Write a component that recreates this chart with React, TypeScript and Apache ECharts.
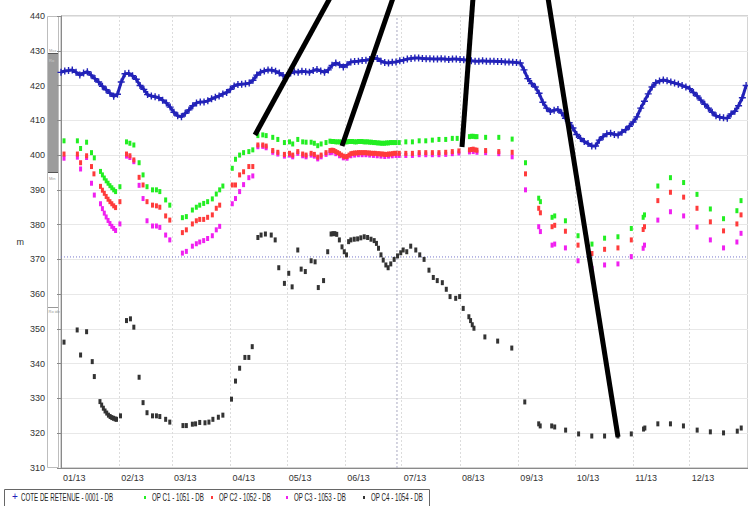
import React, { useEffect, useRef } from "react";
import * as echarts from "echarts";

// ---- axis definitions ----
const monthStarts = [0, 31, 59, 90, 120, 151, 181, 212, 243, 273, 304, 334];
const monthLabels = ["01/13", "02/13", "03/13", "04/13", "05/13", "06/13", "07/13", "08/13", "09/13", "10/13", "11/13", "12/13"];
const yTicks = { min: 310, max: 440, step: 10 };
const xRange = { min: 0, max: 365 };

// ---- series names ----
const seriesNames = [
  "COTE DE RETENUE - 0001 - DB",
  "OP C1 - 1051 - DB",
  "OP C2 - 1052 - DB",
  "OP C3 - 1053 - DB",
  "OP C4 - 1054 - DB",
];

// ---- data: [day of year, level (m)] ----
const coteRetenue = [
  [0, 423.8], [2, 424.2], [4, 424.3], [6, 424.5], [8, 423.8], [10, 423.0], [12, 423.6], [14, 424.0], [16, 423.0], [18, 422.0],
  [20, 421.0], [22, 419.8], [24, 418.8], [26, 417.8], [28, 416.9], [30, 417.5], [32, 421.0], [34, 423.4], [36, 423.5], [38, 422.8],
  [40, 421.8], [42, 420.0], [44, 418.9], [46, 417.4], [48, 417.0], [50, 416.8], [52, 416.5], [54, 415.8], [56, 415.0], [58, 413.8],
  [60, 412.3], [62, 411.3], [64, 411.0], [66, 412.0], [68, 413.0], [70, 414.2], [72, 415.0], [74, 415.3], [76, 415.3], [78, 415.6],
  [80, 416.2], [82, 416.6], [84, 417.0], [86, 417.6], [88, 418.0], [90, 418.9], [92, 419.9], [94, 420.3], [96, 420.4], [98, 420.5],
  [100, 420.7], [102, 421.5], [104, 423.0], [106, 423.8], [108, 424.2], [110, 424.5], [112, 424.4], [114, 424.1], [116, 423.6], [118, 422.9],
  [120, 422.8], [122, 423.6], [124, 424.0], [126, 423.8], [128, 424.1], [130, 424.0], [132, 423.8], [134, 424.3], [136, 424.6], [138, 424.2],
  [140, 423.8], [142, 424.5], [144, 425.8], [146, 426.5], [148, 426.0], [150, 425.3], [152, 426.0], [154, 426.8], [156, 426.9], [158, 427.0],
  [160, 427.2], [162, 427.3], [164, 427.5], [166, 427.8], [168, 427.8], [170, 427.0], [172, 426.6], [174, 426.5], [176, 426.7], [178, 426.8],
  [180, 427.1], [182, 427.3], [184, 427.6], [186, 427.8], [188, 427.9], [190, 427.9], [192, 427.8], [194, 427.7], [196, 427.7], [198, 427.6],
  [200, 427.6], [202, 427.7], [204, 427.6], [206, 427.5], [208, 427.6], [210, 427.6], [212, 427.5], [214, 427.4], [216, 427.3], [218, 427.1],
  [220, 427.0], [222, 427.0], [224, 427.1], [226, 427.0], [228, 427.0], [230, 427.0], [232, 426.9], [234, 426.9], [236, 426.8], [238, 426.8],
  [240, 426.7], [242, 426.6], [244, 426.5], [246, 424.5], [248, 422.0], [250, 420.6], [252, 419.6], [254, 417.8], [256, 415.2], [258, 413.5],
  [260, 412.5], [262, 412.9], [264, 413.1], [266, 412.1], [268, 410.6], [270, 409.3], [272, 407.8], [274, 405.9], [276, 404.8], [278, 403.9],
  [280, 403.3], [282, 402.6], [284, 402.6], [286, 404.3], [288, 405.3], [290, 406.1], [292, 406.3], [294, 405.9], [296, 405.8], [298, 406.6],
  [300, 407.3], [302, 408.3], [304, 409.5], [306, 411.0], [308, 413.5], [310, 415.5], [312, 417.6], [314, 419.6], [316, 420.8], [318, 421.3],
  [320, 421.6], [322, 421.4], [324, 421.0], [326, 420.7], [328, 420.4], [330, 420.0], [332, 419.6], [334, 419.1], [336, 418.0], [338, 417.0],
  [340, 415.8], [342, 414.6], [344, 413.5], [346, 412.3], [348, 411.3], [350, 410.9], [352, 410.7], [354, 410.6], [356, 411.8], [358, 412.6],
  [360, 414.2], [362, 416.5], [364, 420.0],
];

const opC1 = [
  [1.6, 404.1], [8.7, 404.1], [10.4, 401.9], [13.6, 403.7], [16.2, 400.7], [17.7, 399.2],
  [21, 395.3], [22, 394.3], [23, 393.4], [24, 392.6], [25, 391.9], [26, 391.2], [27, 390.6], [28, 390.0], [29, 389.5],
  [31.3, 390.9], [34.8, 403.8], [36.6, 403.4], [38.7, 402.9], [41.5, 397.8], [43.6, 394.3], [45.7, 390.9], [48.6, 390.0], [50.7, 390.0], [52.5, 389.5], [55.6, 387.1], [57.8, 385.6],
  [64.5, 382.0], [66.6, 382.3], [69.8, 384.2], [71.9, 385.0], [73.7, 385.6], [75.8, 386.1], [77.9, 386.6], [80.4, 387.4], [82.5, 388.8], [84.3, 390.0], [86.0, 391.1], [91.0, 396.2], [92.7, 398.8], [94.9, 400.0], [97.0, 400.7], [99.8, 401.0], [101.9, 401.5],
  [104.6, 405.6], [107.2, 405.8], [109.0, 405.6], [112.5, 405.1], [115.2, 404.5], [118.7, 403.6], [121.4, 403.8], [123.1, 403.2], [125.8, 404.5], [128.4, 403.8], [130.2, 403.7], [132.9, 403.7], [134.6, 403.4], [136.4, 402.7], [138.2, 403.2], [140.8, 403.6], [142.9, 404.0],
  [144, 403.9], [145, 403.9], [146, 403.8], [147, 403.8], [148, 403.8], [149, 403.7], [150, 403.7], [151, 403.8], [152, 403.8], [153, 403.9], [154, 403.9], [155, 403.9], [156, 403.8], [157, 403.8], [158, 403.9], [159, 403.9], [160, 403.9], [161, 403.8], [162, 403.8], [163, 403.8], [164, 403.7], [165, 403.7], [166, 403.6], [167, 403.6], [168, 403.5], [169, 403.5], [170, 403.4], [171, 403.4], [172, 403.4], [173, 403.5], [174, 403.5], [175, 403.6], [176, 403.6], [177, 403.6], [178, 403.6],
  [179.7, 403.6], [183.2, 403.8], [186.7, 403.8], [190.3, 404.1], [193.8, 404.1], [197.3, 404.3], [200.8, 404.5], [204.4, 404.5], [207.9, 404.8], [210.5, 404.8],
  [217, 405.3], [218, 405.4], [219, 405.4], [220, 405.3], [221, 405.3],
  [225.6, 405.1], [232.6, 405.1], [239.7, 404.6], [246.8, 397.8], [253.8, 387.6], [254.7, 386.6], [260.9, 382.1], [262.3, 382.5], [268.0, 381.1], [274.7, 376.8], [282.1, 374.4], [288.8, 376.1], [295.9, 376.5], [303.0, 378.9], [309.3, 382.1], [310.0, 382.8], [317.1, 391.1], [323.8, 393.5], [330.8, 392.1], [337.9, 388.7], [345.0, 384.5], [352.0, 381.7], [359.1, 384.0], [361.3, 386.9],
];

const opC2 = [
  [1.6, 400.3], [8.7, 400.3], [10.4, 397.8], [13.6, 399.8], [16.2, 396.7], [17.5, 394.6],
  [21, 391.0], [22, 389.9], [23, 389.0], [24, 388.1], [25, 387.3], [26, 386.6], [27, 386.0], [28, 385.4], [29, 384.9],
  [31.3, 386.6], [34.8, 400.3], [36.6, 399.8], [38.7, 398.6], [41.5, 393.6], [43.6, 391.4], [45.7, 386.6], [48.6, 385.6], [50.7, 385.4], [52.5, 385.0], [55.6, 382.5], [57.8, 381.3],
  [64.5, 377.7], [66.6, 378.5], [69.8, 380.2], [71.9, 381.1], [73.7, 381.5], [75.8, 381.5], [77.9, 382.1], [80.4, 382.8], [82.5, 384.7], [84.3, 385.6], [91.0, 391.4], [92.7, 391.4], [94.9, 394.3], [97.0, 395.2], [99.8, 396.7], [101.9, 396.7],
  [104.6, 402.9], [107.2, 402.9], [109.0, 402.6], [112.5, 401.3], [115.2, 400.8], [118.7, 400.2], [121.4, 400.5], [123.1, 400.0], [125.8, 401.0], [128.4, 400.3], [130.2, 400.0], [132.9, 400.5], [134.6, 400.2], [136.4, 399.4], [138.2, 400.0], [140.8, 400.7], [142.9, 401.3],
  [144, 401.4], [145, 401.3], [146, 401.0], [147, 400.7], [148, 400.4], [149, 400.0], [150, 399.7], [151, 399.5], [152, 399.6], [153, 400.0], [154, 400.4], [155, 400.5], [156, 400.6], [157, 400.6], [158, 400.7], [159, 400.7], [160, 400.7], [161, 400.7], [162, 400.7], [163, 400.6], [164, 400.6], [165, 400.5], [166, 400.5], [167, 400.5], [168, 400.4], [169, 400.4], [170, 400.3], [171, 400.3], [172, 400.2], [173, 400.2], [174, 400.3], [175, 400.3], [176, 400.4], [177, 400.5], [178, 400.5],
  [179.7, 400.5], [183.2, 400.5], [186.7, 400.5], [190.3, 400.7], [193.8, 400.7], [197.3, 400.7], [200.8, 400.7], [204.4, 400.8], [207.9, 401.0], [211.4, 401.2],
  [217, 401.5], [218, 401.6], [219, 401.7], [220, 401.5], [221, 401.4],
  [225.6, 401.3], [232.6, 401.0], [239.7, 400.8], [246.8, 394.6], [253.8, 384.7], [254.7, 383.4], [260.9, 379.4], [262.3, 379.8], [268.0, 378.1], [274.7, 374.1], [282.1, 371.7], [288.8, 372.9], [295.9, 373.3], [303.0, 375.6], [309.3, 378.6], [310.0, 379.4], [317.1, 386.9], [323.8, 389.3], [330.8, 387.9], [337.9, 384.7], [345.0, 380.8], [352.0, 378.2], [359.1, 380.2], [361.3, 382.8],
];

const opC3 = [
  [1.6, 399.1], [8.7, 399.4], [10.4, 396.0], [13.6, 399.3], [16.2, 391.9], [17.7, 388.5],
  [21, 386.0], [22, 384.6], [23, 383.3], [24, 382.2], [25, 381.2], [26, 380.3], [27, 379.5], [28, 378.9], [29, 378.3],
  [31.3, 380.2], [34.8, 399.7], [36.6, 399.3], [38.7, 398.1], [41.5, 391.3], [43.6, 387.5], [45.7, 381.1], [48.6, 379.6], [50.7, 379.6], [52.5, 379.2], [55.6, 377.0], [57.8, 375.6],
  [64.5, 371.8], [66.6, 372.3], [69.8, 373.8], [71.9, 374.5], [73.7, 375.0], [75.8, 375.4], [77.9, 376.0], [80.4, 376.8], [82.5, 378.5], [84.3, 379.5], [91.0, 386.0], [92.7, 387.5], [94.9, 389.5], [97.0, 391.5], [99.8, 393.5], [101.9, 394.0],
  [104.6, 402.4], [107.2, 402.5], [109.0, 402.1], [112.5, 400.8], [115.2, 400.3], [118.7, 399.7], [121.4, 400.0], [123.1, 399.5], [125.8, 400.5], [128.4, 399.8], [130.2, 399.5], [132.9, 400.0], [134.6, 399.7], [136.4, 398.9], [138.2, 399.5], [140.8, 400.2], [142.9, 400.7],
  [144, 400.8], [146, 400.4], [148, 399.8], [150, 399.2], [152, 399.1], [154, 399.8], [156, 400.0], [158, 400.1], [160, 400.1], [162, 400.1], [164, 400.0], [166, 399.9], [168, 399.8], [170, 399.7], [172, 399.6], [174, 399.7], [176, 399.8], [178, 399.9],
  [179.7, 399.9], [183.2, 399.9], [186.7, 399.9], [190.3, 400.1], [193.8, 400.1], [197.3, 400.1], [200.8, 400.1], [204.4, 400.2], [207.9, 400.4], [211.4, 400.6],
  [217, 400.9], [219, 401.0], [221, 400.8],
  [225.6, 400.7], [232.6, 400.4], [239.7, 399.5], [246.8, 390.0], [253.8, 379.4], [254.7, 378.0], [260.9, 374.1], [262.3, 374.4], [268.0, 373.3], [274.7, 369.6], [282.1, 367.4], [288.8, 368.4], [295.9, 368.7], [303.0, 370.8], [309.3, 373.2], [310.0, 374.1], [317.1, 381.3], [323.8, 383.7], [330.8, 382.5], [337.9, 379.3], [345.0, 375.6], [352.0, 373.3], [359.1, 375.0], [361.3, 377.5],
];

const opC4 = [
  [1.6, 346.2], [8.6, 349.7], [10.4, 342.5], [13.6, 349.2], [16.6, 340.6], [17.7, 336.3], [20.7, 329.1],
  [21.6, 328.1], [22.5, 327.2], [23.4, 326.4], [24.3, 325.8], [25.2, 325.2], [26.1, 324.8], [27.0, 324.5], [27.9, 324.3], [28.8, 324.1], [29.5, 324.0],
  [31.6, 325.0], [34.8, 352.4], [36.9, 352.9], [38.7, 350.5], [41.5, 336.1], [43.6, 328.8], [45.7, 325.9], [48.6, 325.0], [50.7, 325.0], [52.5, 324.8], [55.6, 324.0], [57.8, 323.2],
  [64.8, 322.2], [66.6, 322.2], [69.8, 322.6], [71.5, 322.7], [73.7, 323.1], [76.5, 323.0], [78.6, 323.2], [80.7, 324.0], [83.6, 324.6], [86.0, 325.2], [90.6, 329.8], [92.7, 335.0], [94.9, 338.7], [97.7, 341.8], [99.8, 341.8], [101.6, 344.9],
  [104.6, 376.3], [106.3, 377.0], [108.6, 377.3], [111.7, 377.0], [113.8, 375.6], [115.7, 367.6], [118.7, 363.1], [121.0, 366.0], [122.8, 362.1], [125.8, 372.7], [127.6, 367.2], [129.8, 366.5], [132.9, 369.6], [135.0, 369.3], [136.7, 361.9], [139.5, 363.9], [141.7, 372.2],
  [143.5, 377.3], [144.5, 377.4], [145.5, 377.4], [146.5, 377.2], [147.9, 375.6], [149.3, 373.6], [150.5, 372.2], [151.7, 371.3], [152.8, 375.1], [154.0, 375.6], [155.8, 375.8], [157.6, 375.9], [159.3, 376.2], [161.1, 376.5], [162.9, 376.3], [164.7, 375.8], [166.4, 375.4], [167.6, 374.6], [168.7, 373.2], [170.0, 371.3], [171.2, 369.8], [172.6, 368.4], [173.8, 367.6], [175.2, 368.7], [177.0, 370.0], [178.8, 371.0], [180.5, 371.9], [181.8, 372.7],
  [183.7, 372.2], [185.8, 373.8], [188.5, 372.7], [190.6, 371.3], [192.9, 370.0], [195.5, 366.9], [197.8, 364.8], [199.9, 363.9], [202.6, 363.3], [204.7, 361.4], [206.7, 359.3], [209.7, 358.8], [211.8, 359.3], [213.7, 355.9],
  [216.7, 353.5], [217.6, 352.4], [218.5, 351.2], [219.4, 350.2], [225.2, 347.7], [232.0, 346.5], [239.5, 344.5], [246.4, 329.0], [253.8, 322.7], [254.6, 322.1], [260.7, 322.1], [262.3, 321.8], [268.1, 320.9], [275.0, 319.8], [282.0, 319.2], [288.8, 319.2], [295.9, 319.2], [303.0, 319.8], [309.5, 321.2], [310.2, 321.5], [317.1, 322.7], [323.8, 322.7], [330.7, 322.1], [338.0, 320.9], [345.0, 320.4], [352.0, 320.1], [359.3, 320.6], [361.4, 321.5],
];

// reference levels
const refLevel = 370.7;
const refDay = 178.5;

const colors = ["#2222b8", "#22ee22", "#ff3b3b", "#f020f0", "#333333"];
// drawing order: green, magenta, red, dark (red drawn over magenta)
const zOrder = [2, 4, 6, 5, 7];
const FONT = "'Liberation Sans Narrow', 'Liberation Sans', Arial, sans-serif";
const PLUS = "path://M2,0H3V2H5V3H3V5H2V3H0V2H2Z";

export default function App() {
  const ref = useRef<HTMLDivElement>(null);
  useEffect(() => {
    if (!ref.current) return;
    const chart = echarts.init(ref.current, null, { renderer: "svg" });

    const scatterSeries = [opC1, opC2, opC3, opC4].map((d, i) => ({
      name: seriesNames[i + 1],
      type: "scatter",
      data: d,
      symbol: "rect",
      symbolSize: [3, 5],
      itemStyle: { color: colors[i + 1], opacity: 1 },
      z: zOrder[i + 1],
    }));

    // legend drawn as graphic texts
    const legendXs = [14, 145, 212, 287, 364];
    const legendEls: any[] = [
      { type: "rect", shape: { x: 4.5, y: 489.5, width: 425, height: 20 }, style: { fill: "#fff", stroke: "#666", lineWidth: 1 } },
    ];
    seriesNames.forEach((n, i) => {
      const x0 = legendXs[i];
      if (i === 0) {
        legendEls.push({ type: "text", x: x0 - 2, y: 491, style: { text: "+", fill: colors[0], font: `10px ${FONT}` } });
      } else {
        legendEls.push({ type: "rect", shape: { x: x0 - 1, y: 496, width: 2, height: 3 }, style: { fill: colors[i] } });
      }
      legendEls.push({
        type: "text",
        x: x0 + 7,
        y: 492,
        scaleX: 0.62,
        style: { text: n, fill: "#222", font: `10px ${FONT}` },
      });
    });

    const annotation = [
      [330, -2, 255, 135],
      [393, -2, 342, 146],
      [473, -2, 462, 147],
      [548, -2, 618, 437],
    ].map(([x1, y1, x2, y2]) => ({
      type: "line",
      shape: { x1, y1, x2, y2 },
      style: { stroke: "#000", lineWidth: 5, lineCap: "butt" },
      z: 100,
    }));

    chart.setOption({
      animation: false,
      backgroundColor: "#fff",
      textStyle: { fontFamily: FONT },
      grid: { left: 61, top: 16, right: -2, bottom: 38, show: true, borderColor: "#a8a8a8", borderWidth: 1 },
      xAxis: {
        type: "value",
        min: xRange.min,
        max: xRange.max,
        axisLine: { show: true, lineStyle: { color: "#8a8a8a" } },
        axisTick: { show: false, customValues: monthStarts },
        axisLabel: {
          customValues: monthStarts,
          formatter: (v: number) => monthLabels[monthStarts.indexOf(v)] ?? "",
          align: "left",
          margin: 5,
          padding: [0, 0, 0, 2],
          fontSize: 9,
          color: "#333",
          fontFamily: FONT,
        },
        splitLine: { show: true, lineStyle: { color: "#dcdcdc", type: [2, 2], width: 1 } },
      },
      yAxis: {
        type: "value",
        min: yTicks.min,
        max: yTicks.max,
        interval: yTicks.step,
        offset: 14,
        name: "m",
        nameLocation: "middle",
        nameGap: 14,
        nameRotate: 0,
        nameTextStyle: { fontSize: 9, color: "#333", fontFamily: FONT },
        axisLine: { show: true, lineStyle: { color: "#8a8a8a" } },
        axisTick: { show: true, length: 4, lineStyle: { color: "#8a8a8a" } },
        axisLabel: { fontSize: 9, color: "#333", margin: 2, fontFamily: FONT },
        splitLine: { show: true, lineStyle: { color: "#e8e8e8", width: 1 } },
      },
      series: [
        {
          name: "refLevel",
          type: "line",
          data: [[xRange.min, refLevel], [xRange.max, refLevel]],
          symbol: "none",
          silent: true,
          lineStyle: { color: "#7878cc", type: [1, 2], width: 1 },
          z: 1,
        },
        {
          name: "refDay",
          type: "line",
          data: [[refDay, yTicks.min], [refDay, yTicks.max]],
          symbol: "none",
          silent: true,
          lineStyle: { color: "#a8a8c0", type: [2, 2], width: 1 },
          z: 1,
        },
        {
          name: seriesNames[0],
          type: "line",
          data: coteRetenue,
          symbol: PLUS,
          symbolSize: 7,
          showSymbol: true,
          lineStyle: { color: colors[0], width: 3 },
          itemStyle: { color: colors[0] },
          z: 3,
        },
        ...scatterSeries,
      ],
      graphic: [
        // side scroll bar
        { type: "rect", shape: { x: 47.5, y: 16.5, width: 11, height: 451 }, style: { fill: "none", stroke: "#bdbdbd", lineWidth: 1 } },
        { type: "rect", shape: { x: 48, y: 53, width: 10, height: 119 }, style: { fill: "#9c9c9c" } },
        { type: "line", shape: { x1: 48, y1: 53.5, x2: 58, y2: 53.5 }, style: { stroke: "#555", lineWidth: 1 } },
        { type: "line", shape: { x1: 48, y1: 172.5, x2: 58, y2: 172.5 }, style: { stroke: "#555", lineWidth: 1 } },
        { type: "text", x: 49, y: 48, style: { text: "Max", fill: "#999", font: `4px ${FONT}` } },
        { type: "text", x: 49, y: 58, style: { text: "Ro", fill: "#ccc", font: `4px ${FONT}` } },
        { type: "text", x: 49, y: 176, style: { text: "Min", fill: "#999", font: `4px ${FONT}` } },
        { type: "line", shape: { x1: 48, y1: 307.5, x2: 58, y2: 307.5 }, style: { stroke: "#999", lineWidth: 1 } },
        { type: "text", x: 48.5, y: 309, style: { text: "Ro ide", fill: "#999", font: `4px ${FONT}` } },
        ...legendEls,
        ...annotation,
      ],
    });
    return () => chart.dispose();
  }, []);
  return <div ref={ref} style={{ position: "fixed", left: 0, top: 0, width: 748, height: 506 }} />;
}
